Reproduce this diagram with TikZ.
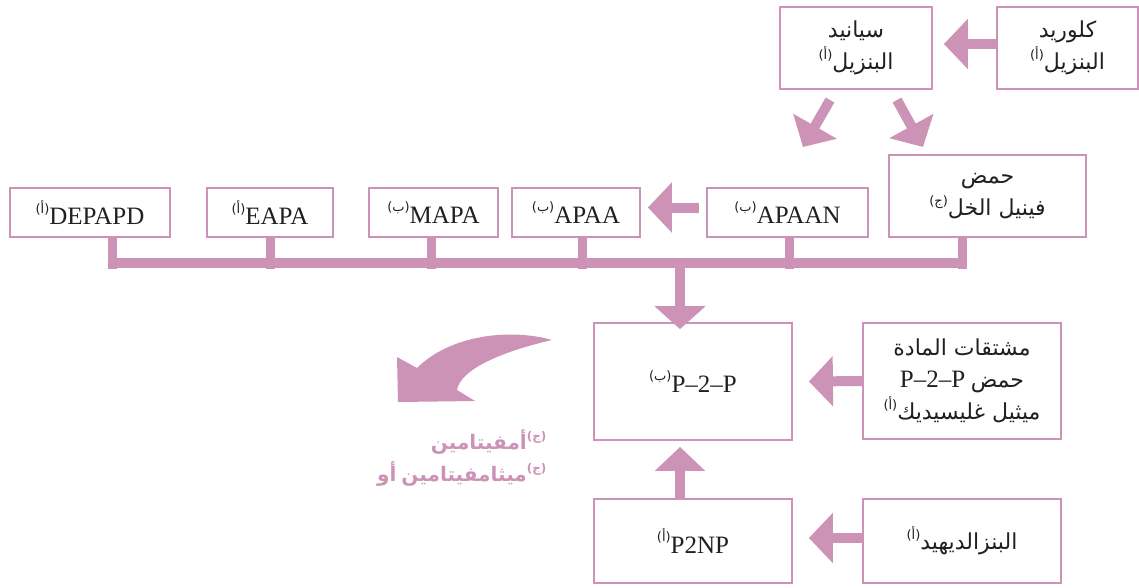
\documentclass[tikz,border=0pt]{standalone}
\usepackage{fontspec}
\setmainfont{Liberation Serif}
\newfontfamily\arabicfont[Script=Arabic]{DejaVu Sans}
\TeXXeTstate=1
\usetikzlibrary{arrows.meta}
\definecolor{pk}{HTML}{CD93B6}
\definecolor{ink}{HTML}{231F20}
\newcommand\supx[1]{\raisebox{1.0ex}{\fontsize{13}{13}\selectfont\arabicfont(#1)}}
\newcommand\ar[1]{\hbox{\arabicfont\beginR #1\endR}}
\tikzset{
  box/.style={draw=pk, line width=1.8pt, fill=white, inner sep=0pt, text=ink, align=center, font=\fontsize{25}{30}\selectfont},
  arbox/.style={box, font=\fontsize{22}{32}\selectfont},
  barrow/.style={draw=pk, line width=10pt, -{Triangle[length=24pt,width=49pt]}},
  barline/.style={draw=pk, line width=9pt},
}
\begin{document}
\begin{tikzpicture}[x=1pt,y=-1pt]
\useasboundingbox (0,0) rectangle (1139,587);
% top row
\node[arbox, minimum width=152pt, minimum height=82pt] (sy) at (856,48) {\ar{سيانيد}\\ \supx{أ}\ar{البنزيل}};
\node[arbox, minimum width=141pt, minimum height=82pt] (kl) at (1067.5,48) {\ar{كلوريد}\\ \supx{أ}\ar{البنزيل}};
% middle row
\node[box, minimum width=160pt, minimum height=49pt] (dep) at (90,212.5) {\supx{أ}DEPAPD};
\node[box, minimum width=126pt, minimum height=49pt] (eapa) at (270,212.5) {\supx{أ}EAPA};
\node[box, minimum width=129pt, minimum height=49pt] (mapa) at (433.5,212.5) {\supx{ب}MAPA};
\node[box, minimum width=128pt, minimum height=49pt] (apaa) at (576,212.5) {\supx{ب}APAA};
\node[box, minimum width=161pt, minimum height=49pt] (apaan) at (787.5,212.5) {\supx{ب}APAAN};
\node[arbox, minimum width=197pt, minimum height=82pt] (acid) at (987.5,196) {\ar{حمض}\\ \supx{ج}\ar{فينيل الخل}};
% lower
\node[box, minimum width=198pt, minimum height=117pt] (p2p) at (693,381.5) {\supx{ب}P–2–P};
\node[arbox, minimum width=198pt, minimum height=116pt] (der) at (962,381) {\ar{مشتقات المادة}\\ \hbox{\fontsize{25}{32}\selectfont P–2–P}\ \ar{حمض}\\ \supx{أ}\ar{ميثيل غليسيديك}};
\node[box, minimum width=198pt, minimum height=84pt] (p2np) at (693,541) {\supx{أ}P2NP};
\node[arbox, minimum width=198pt, minimum height=84pt] (benz) at (962,541) {\supx{أ}\ar{البنزالديهيد}};
% result text
\node[anchor=east, text=pk, align=right, font=\fontsize{20}{32}\selectfont\bfseries] (amph) at (550,458)
  {\ar{أمفيتامين}\raisebox{1.0ex}{\fontsize{12}{12}\selectfont\arabicfont(ج)}\\
   \ar{أو}\ \ar{ميثامفيتامين}\raisebox{1.0ex}{\fontsize{12}{12}\selectfont\arabicfont(ج)}};
% arrows
\draw[barrow] ([yshift=4pt]kl.west) -- ([xshift=11pt,yshift=4pt]sy.east);
\coordinate (d1s) at (830,100); \coordinate (d1e) at (803,147);
\coordinate (d2s) at (897,100); \coordinate (d2e) at (923,147);
\draw[barrow] (d1s) -- (d1e);
\draw[barrow] (d2s) -- (d2e);
\draw[barrow] ([yshift=5pt,xshift=-7pt]apaan.west) -- ([xshift=7pt,yshift=5pt]apaa.east);
\draw[barrow] (der.west) -- ([xshift=16pt]p2p.east);
\draw[barrow] ([yshift=3pt]benz.west) -- ([xshift=16pt,yshift=3pt]p2np.east);
\draw[barrow] ([xshift=-13pt]p2np.north) -- ([xshift=-13pt,yshift=-6pt]p2p.south);
% collecting bar
\coordinate (barL) at (108,263);
\coordinate (barR) at (967,263);
\draw[draw=pk, line width=10pt] (barL) -- (barR);
\draw[barline] ([xshift=22pt]dep.south) -- ++(0,31);
\draw[barline] (eapa.south) -- ++(0,31);
\draw[barline] ([xshift=-2pt]mapa.south) -- ++(0,31);
\draw[barline] ([xshift=6pt]apaa.south) -- ++(0,31);
\draw[barline] ([xshift=2pt]apaan.south) -- ++(0,31);
\draw[barline] ([xshift=-25pt]acid.south) -- ++(0,31);
\coordinate (barD) at (680,263);
\draw[barrow, -{Triangle[length=23pt,width=50pt]}] (barD) -- ([xshift=-13pt,yshift=-7pt]p2p.north);
% curved arrow
\fill[pk] (552,340) .. controls (510,328) and (450,335) .. (417,368) -- (397,357) -- (398,402) -- (475,401) -- (457,390) .. controls (460,370) and (500,352) .. (552,340) -- cycle;
\end{tikzpicture}
\end{document}
